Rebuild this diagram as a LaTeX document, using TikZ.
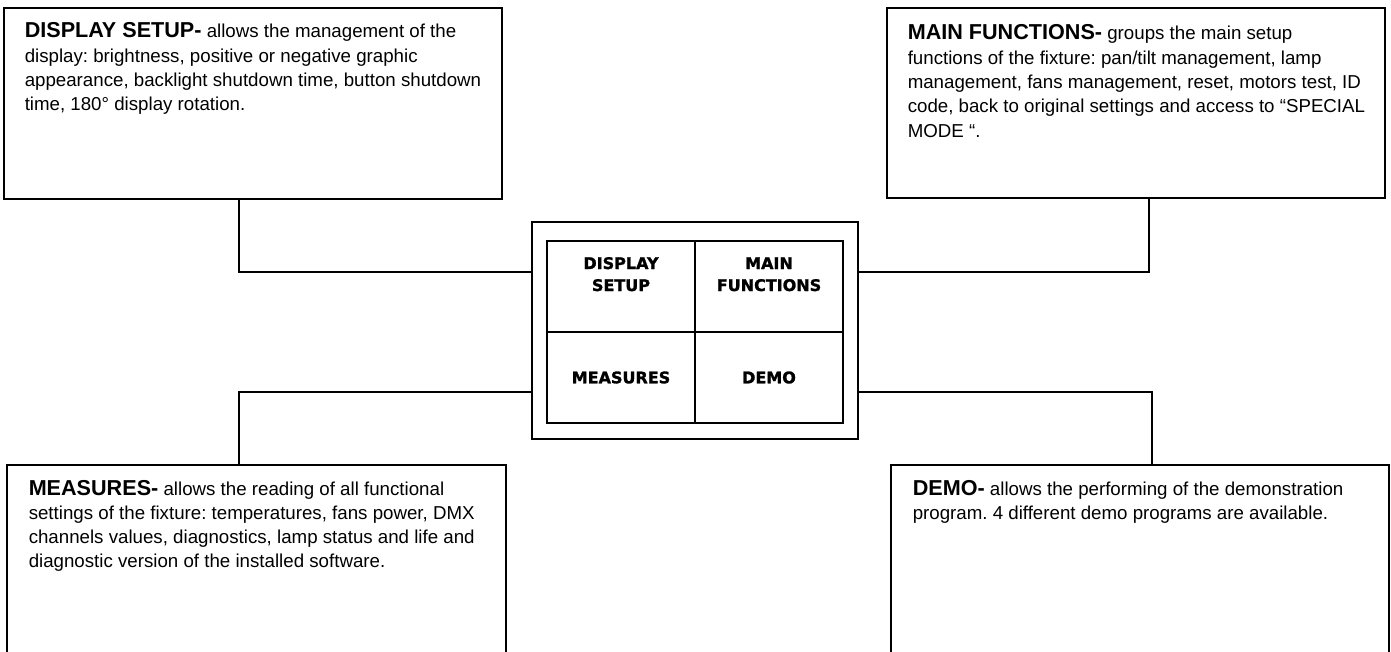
\documentclass[tikz,border=0pt]{standalone}
\usepackage{fontspec}
\setmainfont{Liberation Sans}
\newfontfamily\cellfont[BoldFeatures={FakeBold=1.5}]{DejaVu Sans}
\usetikzlibrary{positioning}
\newcommand{\headfont}{\fontsize{21.6}{24.3}\selectfont\bfseries}
\frenchspacing

\begin{document}
\begin{tikzpicture}[x=1pt, y=-1pt, line width=1.5pt,
  descbox/.style={draw, rectangle, anchor=north west, inner sep=0pt, outer sep=0pt},
  desctext/.style={anchor=base west, align=left, inner sep=0pt, font={\fontsize{18.7}{24.3}\selectfont}},
  cellbox/.style={draw, rectangle, minimum width=148pt, minimum height=91pt, inner sep=0pt, outer sep=0pt},
  celltext/.style={align=center, inner sep=0pt, font={\cellfont\bfseries\fontsize{16}{22}\selectfont}}]
\useasboundingbox (0,0) rectangle (1391,652);
\clip (0,0) rectangle (1391,652);

% base of a text block = baseline of its last line
\node[descbox, minimum width=498pt, minimum height=191pt] (dsbox) at (4,8) {};
\node[desctext] (dstext) at ([shift={(20,102.9)}]dsbox.north west)
  {{\headfont DISPLAY SETUP-} allows the management of the\\
   display: brightness, positive or negative graphic\\
   appearance, backlight shutdown time, button shutdown\\
   time, 180° display rotation.};

\node[descbox, minimum width=498pt, minimum height=190pt] (mfbox) at (887,8) {};
\node[desctext] (mftext) at ([shift={(20,129.2)}]mfbox.north west)
  {{\headfont MAIN FUNCTIONS-} groups the main setup\\
   functions of the fixture: pan/tilt management, lamp\\
   management, fans management, reset, motors test, ID\\
   code, back to original settings and access to “SPECIAL\\
   MODE “.};

\node[descbox, minimum width=499pt, minimum height=200pt] (msbox) at (7,465) {};
\node[desctext] (mstext) at ([shift={(21,102.9)}]msbox.north west)
  {{\headfont MEASURES-} allows the reading of all functional\\
   settings of the fixture: temperatures, fans power, DMX\\
   channels values, diagnostics, lamp status and life and\\
   diagnostic version of the installed software.};

\node[descbox, minimum width=498pt, minimum height=200pt] (dmbox) at (891,465) {};
\node[desctext] (dmtext) at ([shift={(21,54.3)}]dmbox.north west)
  {{\headfont DEMO-} allows the performing of the demonstration\\
   program. 4 different demo programs are available.};

\node[descbox, minimum width=326pt, minimum height=217pt] (panel) at (532,222) {};
\node[cellbox, anchor=north west] (dscell) at (547,241) {};
\node[cellbox, right=0pt of dscell] (mfcell) {};
\node[cellbox, below=0pt of dscell] (mscell) {};
\node[cellbox, right=0pt of mscell] (dmcell) {};
\node[celltext, anchor=base] (dslabel) at ([yshift=-50pt]dscell.north) {DISPLAY\\SETUP};
\node[celltext, anchor=base] (mflabel) at ([yshift=-50pt]mfcell.north) {MAIN\\FUNCTIONS};
\node[celltext] (mslabel) at (mscell) {MEASURES};
\node[celltext] (dmlabel) at (dmcell) {DEMO};

\coordinate (dsjoin) at (239,272);
\draw (dsbox.south -| dsjoin) -- (dsjoin) -- (panel.west |- dsjoin);
\coordinate (mfjoin) at (1149,272);
\draw (mfbox.south -| mfjoin) -- (mfjoin) -- (panel.east |- mfjoin);
\coordinate (msjoin) at (239,392);
\draw (msbox.north -| msjoin) -- (msjoin) -- (panel.west |- msjoin);
\coordinate (dmjoin) at (1152,392);
\draw (dmbox.north -| dmjoin) -- (dmjoin) -- (panel.east |- dmjoin);
\end{tikzpicture}
\end{document}
